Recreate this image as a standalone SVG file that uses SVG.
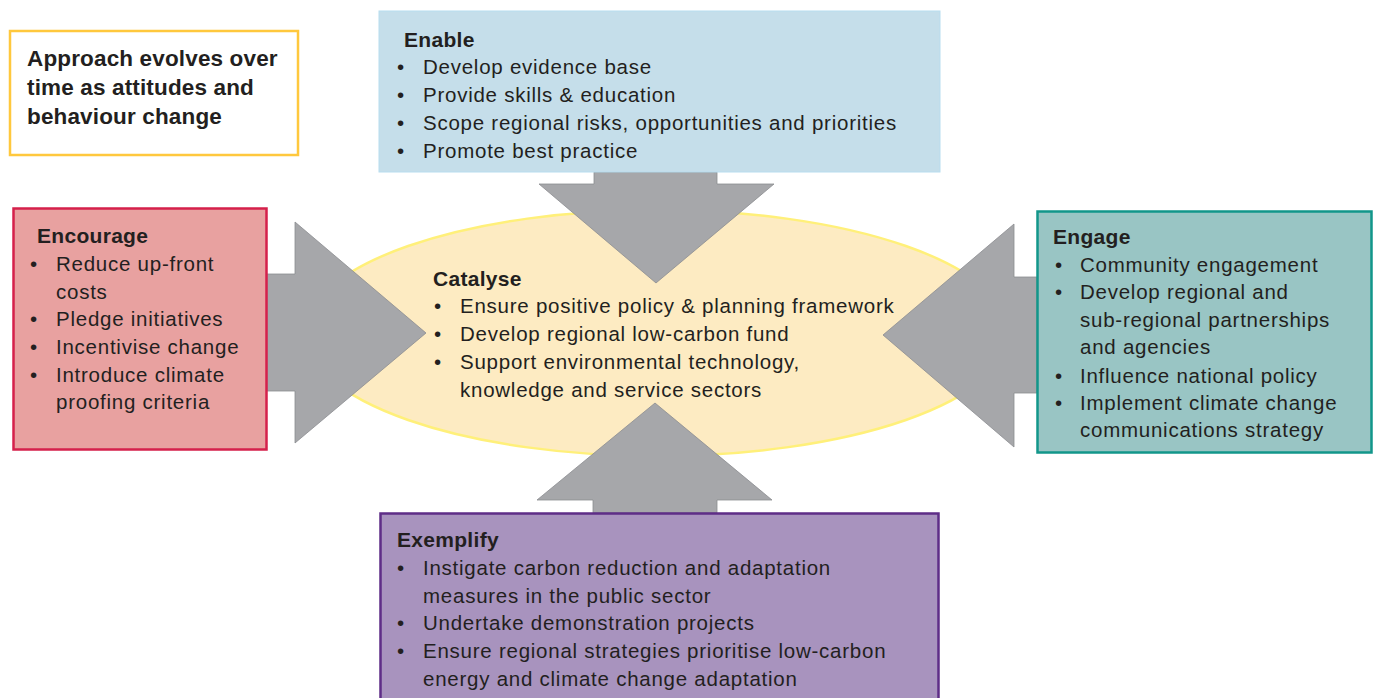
<svg xmlns="http://www.w3.org/2000/svg" width="1376" height="698" viewBox="0 0 1376 698">
<style>
text{font-family:"Liberation Sans",Arial,sans-serif;fill:#231F20}
.t{font-size:21px;font-weight:bold;letter-spacing:0.3px}
.b{font-size:20.5px;letter-spacing:0.75px}
.n{font-size:22.5px;font-weight:bold;letter-spacing:0.15px}
.arrow{fill:#A6A7AA;stroke:#8C8D90;stroke-width:0.8}
</style>
<rect width="1376" height="698" fill="#FFFFFF"/>

<g id="catalyse">
<ellipse cx="657" cy="333" rx="352" ry="123" fill="#FDEBC2" stroke="#FFF07A" stroke-width="2.5"/>
<text class="t" x="433" y="286">Catalyse</text>
<text class="b"><tspan x="434" y="313">•</tspan><tspan x="460" y="313">Ensure positive policy &amp; planning framework</tspan></text>
<text class="b"><tspan x="434" y="341">•</tspan><tspan x="460" y="341">Develop regional low-carbon fund</tspan></text>
<text class="b"><tspan x="434" y="369">•</tspan><tspan x="460" y="369">Support environmental technology,</tspan></text>
<text class="b"><tspan x="460" y="397">knowledge and service sectors</tspan></text>
</g>

<g id="connectors">
<polygon class="arrow" points="594,172 717,172 717,184 774,184 656,283 539,184 594,184"/>
<polygon class="arrow" points="593,513 593,500 537,500 655,403 772,500 717,500 717,513"/>
<polygon class="arrow" points="266,274 295,274 295,222 426,333 295,443 295,391 266,391"/>
<polygon class="arrow" points="1037,277 1014,277 1014,224 883,335 1014,447 1014,393 1037,393"/>
</g>

<g id="note">
<rect x="10" y="31" width="288" height="124" fill="#FFFFFF" stroke="#FFC83D" stroke-width="2.5"/>
<text class="n" x="27" y="66">Approach evolves over</text>
<text class="n" x="27" y="95">time as attitudes and</text>
<text class="n" x="27" y="124">behaviour change</text>
</g>

<g id="enable">
<rect x="379" y="11" width="561" height="161" fill="#C5DEEA" stroke="#B8DDEF" stroke-width="1"/>
<text class="t" x="404" y="47">Enable</text>
<text class="b"><tspan x="397" y="74">•</tspan><tspan x="423" y="74">Develop evidence base</tspan></text>
<text class="b"><tspan x="397" y="102">•</tspan><tspan x="423" y="102">Provide skills &amp; education</tspan></text>
<text class="b"><tspan x="397" y="130">•</tspan><tspan x="423" y="130">Scope regional risks, opportunities and priorities</tspan></text>
<text class="b"><tspan x="397" y="158">•</tspan><tspan x="423" y="158">Promote best practice</tspan></text>
</g>

<g id="encourage">
<rect x="13.5" y="208.5" width="253" height="241" fill="#E8A1A0" stroke="#D5204B" stroke-width="2.5"/>
<text class="t" x="37" y="243">Encourage</text>
<text class="b"><tspan x="30" y="271">•</tspan><tspan x="56" y="271">Reduce up-front</tspan></text>
<text class="b"><tspan x="56" y="299">costs</tspan></text>
<text class="b"><tspan x="30" y="326">•</tspan><tspan x="56" y="326">Pledge initiatives</tspan></text>
<text class="b"><tspan x="30" y="354">•</tspan><tspan x="56" y="354">Incentivise change</tspan></text>
<text class="b"><tspan x="30" y="382">•</tspan><tspan x="56" y="382">Introduce climate</tspan></text>
<text class="b"><tspan x="56" y="409">proofing criteria</tspan></text>
</g>

<g id="engage">
<rect x="1037.5" y="211.5" width="334" height="241" fill="#99C5C4" stroke="#12968A" stroke-width="2.5"/>
<text class="t" x="1053" y="244">Engage</text>
<text class="b"><tspan x="1055" y="272">•</tspan><tspan x="1080" y="272">Community engagement</tspan></text>
<text class="b"><tspan x="1055" y="299">•</tspan><tspan x="1080" y="299">Develop regional and</tspan></text>
<text class="b"><tspan x="1080" y="327">sub-regional partnerships</tspan></text>
<text class="b"><tspan x="1080" y="354">and agencies</tspan></text>
<text class="b"><tspan x="1055" y="383">•</tspan><tspan x="1080" y="383">Influence national policy</tspan></text>
<text class="b"><tspan x="1055" y="410">•</tspan><tspan x="1080" y="410">Implement climate change</tspan></text>
<text class="b"><tspan x="1080" y="437">communications strategy</tspan></text>
</g>

<g id="exemplify">
<rect x="380.5" y="513.5" width="558" height="200" fill="#A893BE" stroke="#5E2D87" stroke-width="2.5"/>
<text class="t" x="397" y="547">Exemplify</text>
<text class="b"><tspan x="397" y="575">•</tspan><tspan x="423" y="575">Instigate carbon reduction and adaptation</tspan></text>
<text class="b"><tspan x="423" y="603">measures in the public sector</tspan></text>
<text class="b"><tspan x="397" y="630">•</tspan><tspan x="423" y="630">Undertake demonstration projects</tspan></text>
<text class="b"><tspan x="397" y="658">•</tspan><tspan x="423" y="658">Ensure regional strategies prioritise low-carbon</tspan></text>
<text class="b"><tspan x="423" y="686">energy and climate change adaptation</tspan></text>
</g>
</svg>
